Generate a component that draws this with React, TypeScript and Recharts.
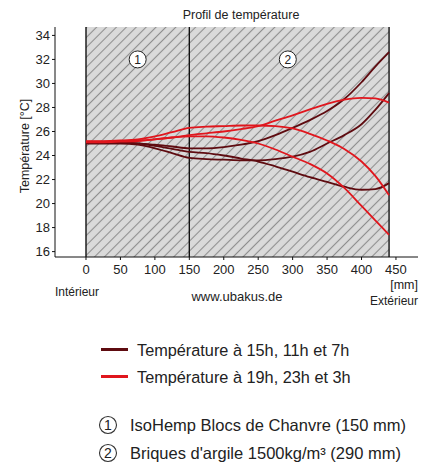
import {
  LineChart,
  Line,
  XAxis,
  YAxis,
  ReferenceArea,
  ReferenceLine,
  ReferenceDot,
} from "recharts";

// position dans la paroi [mm], intérieur -> extérieur
const positions = [0, 25, 50, 75, 100, 125, 150, 175, 200, 225, 250, 275, 300, 325, 350, 375, 400, 420, 440];

// 15h, 11h, 7h (rouge foncé)
const sombreA = [25.1, 25.1, 25.1, 25.0, 24.9, 24.75, 24.6, 24.6, 24.7, 24.9, 25.2, 25.7, 26.3, 26.95, 27.7, 28.7, 30.1, 31.4, 32.6];
const sombreB = [25.0, 25.0, 25.0, 24.9, 24.6, 24.2, 23.8, 23.7, 23.65, 23.6, 23.6, 23.7, 23.9, 24.3, 25.0, 25.7, 26.6, 27.8, 29.2];
const sombreC = [25.05, 25.05, 25.05, 25.0, 24.8, 24.55, 24.3, 24.2, 24.0, 23.75, 23.5, 23.1, 22.65, 22.2, 21.8, 21.4, 21.15, 21.2, 21.7];

// 19h, 23h, 3h (rouge)
const rougeA = [25.15, 25.15, 25.2, 25.25, 25.35, 25.5, 25.7, 25.85, 26.0, 26.2, 26.45, 26.9, 27.35, 27.85, 28.3, 28.65, 28.8, 28.75, 28.4];
const rougeB = [25.2, 25.2, 25.25, 25.35, 25.6, 25.95, 26.3, 26.4, 26.45, 26.5, 26.5, 26.45, 26.25, 25.8, 25.25, 24.55, 23.5, 22.3, 20.7];
const rougeC = [25.1, 25.1, 25.15, 25.2, 25.35, 25.5, 25.6, 25.6, 25.5, 25.3, 25.0, 24.5, 23.9, 23.3, 22.5, 21.3, 19.8, 18.6, 17.4];

const xTicks = [0, 50, 100, 150, 200, 250, 300, 350, 400, 450];
const yTicks = [16, 18, 20, 22, 24, 26, 28, 30, 32, 34];

const SOMBRE = "#5e0b10";
const ROUGE = "#e0161d";

const data = positions.map((pos, i) => ({
  pos,
  sombreA: sombreA[i],
  sombreB: sombreB[i],
  sombreC: sombreC[i],
  rougeA: rougeA[i],
  rougeB: rougeB[i],
  rougeC: rougeC[i],
}));

const font = "'Liberation Sans', Arial, sans-serif";

const txt = (extra: React.CSSProperties): React.CSSProperties => ({
  position: "absolute",
  fontFamily: font,
  color: "#222",
  whiteSpace: "nowrap",
  lineHeight: 1,
  ...extra,
});

export default function App() {
  return (
    <div style={{ position: "absolute", left: 0, top: 0, width: 427, height: 463, background: "#fff" }}>
      <LineChart
        width={427}
        height={463}
        data={data}
        margin={{ top: 27, right: 9, left: 15, bottom: 186 }}
      >
        <defs>
          <pattern id="hatch" width="7" height="7" patternUnits="userSpaceOnUse" patternTransform="rotate(45)">
            <rect width="7" height="7" fill="#dadada" />
            <line x1="3.5" y1="0" x2="3.5" y2="7" stroke="#8e8e8e" strokeWidth="1.1" />
          </pattern>
        </defs>
        <XAxis
          xAxisId="x"
          dataKey="pos"
          type="number"
          domain={[-45, 482]}
          ticks={xTicks}
          allowDataOverflow
          height={20}
          stroke="#111"
          tickSize={3}
          tickMargin={5}
          tick={{ fontSize: 13, fill: "#222", fontFamily: font }}
        />
        <XAxis
          xAxisId="xTop"
          orientation="top"
          dataKey="pos"
          type="number"
          domain={[-45, 482]}
          ticks={xTicks}
          allowDataOverflow
          mirror
          height={0}
          stroke="#111"
          tickSize={3}
          tickFormatter={() => ""}
        />
        <YAxis
          yAxisId="y"
          type="number"
          domain={[15.55, 34.7]}
          ticks={yTicks}
          allowDataOverflow
          width={40}
          stroke="#111"
          tickSize={3}
          tickMargin={2}
          tick={{ fontSize: 13, fill: "#222", fontFamily: font }}
        />
        <YAxis
          yAxisId="yRight"
          orientation="right"
          type="number"
          domain={[15.55, 34.7]}
          ticks={yTicks}
          allowDataOverflow
          mirror
          width={0}
          stroke="#111"
          tickSize={3}
          tickFormatter={() => ""}
        />
        <ReferenceArea xAxisId="x" yAxisId="y" x1={0} x2={440} y1={15.55} y2={34.7} fill="url(#hatch)" fillOpacity={1} stroke="none" />
        <ReferenceLine xAxisId="x" yAxisId="y" x={0} stroke="#111" strokeWidth={1.4} />
        <ReferenceLine xAxisId="x" yAxisId="y" x={150} stroke="#111" strokeWidth={1.4} />
        <ReferenceLine xAxisId="x" yAxisId="y" x={440} stroke="#111" strokeWidth={1.4} />
        <ReferenceDot
          xAxisId="x"
          yAxisId="y"
          x={75}
          y={32}
          r={8.5}
          fill="#fff"
          stroke="#222"
          label={{ value: "1", position: "center", fontSize: 12, fill: "#222", fontFamily: font }}
        />
        <ReferenceDot
          xAxisId="x"
          yAxisId="y"
          x={293}
          y={32}
          r={8.5}
          fill="#fff"
          stroke="#222"
          label={{ value: "2", position: "center", fontSize: 12, fill: "#222", fontFamily: font }}
        />
        {["sombreA", "sombreB", "sombreC"].map((k) => (
          <Line key={k} xAxisId="x" yAxisId="y" type="monotone" dataKey={k} stroke={SOMBRE} strokeWidth={1.8} dot={false} isAnimationActive={false} />
        ))}
        {["rougeA", "rougeB", "rougeC"].map((k) => (
          <Line key={k} xAxisId="x" yAxisId="y" type="monotone" dataKey={k} stroke={ROUGE} strokeWidth={1.8} dot={false} isAnimationActive={false} />
        ))}
      </LineChart>

      <div style={txt({ left: 241, top: 15, fontSize: 12.5, transform: "translate(-50%,-50%)" })}>Profil de température</div>
      <div style={txt({ left: 25, top: 146, fontSize: 12.5, transform: "translate(-50%,-50%) rotate(-90deg)" })}>
        Température [°C]
      </div>
      <div style={txt({ left: 55, top: 292, fontSize: 12, transform: "translateY(-50%)" })}>Intérieur</div>
      <div style={txt({ left: 237, top: 296, fontSize: 13, transform: "translate(-50%,-50%)" })}>www.ubakus.de</div>
      <div style={txt({ right: 9, top: 285, fontSize: 12.5, transform: "translateY(-50%)" })}>[mm]</div>
      <div style={txt({ right: 9, top: 301, fontSize: 12, transform: "translateY(-50%)" })}>Extérieur</div>

      <div style={{ position: "absolute", left: 101, top: 348, width: 27, height: 3, background: SOMBRE }} />
      <div style={txt({ left: 137, top: 350, fontSize: 16.3, transform: "translateY(-50%)" })}>Température à 15h, 11h et 7h</div>
      <div style={{ position: "absolute", left: 101, top: 375, width: 27, height: 3, background: ROUGE }} />
      <div style={txt({ left: 137, top: 377, fontSize: 16.3, transform: "translateY(-50%)" })}>Température à 19h, 23h et 3h</div>

      <svg style={{ position: "absolute", left: 0, top: 0 }} width={427} height={463}>
        <circle cx={108} cy={425} r={8.5} fill="#fff" stroke="#333" strokeWidth={1.1} />
        <text x={108} y={430} textAnchor="middle" fontSize={14} fontFamily={font} fill="#222">1</text>
        <circle cx={108} cy={453} r={8.5} fill="#fff" stroke="#333" strokeWidth={1.1} />
        <text x={108} y={458} textAnchor="middle" fontSize={14} fontFamily={font} fill="#222">2</text>
      </svg>
      <div style={txt({ left: 130, top: 425, fontSize: 16.5, transform: "translateY(-50%)" })}>IsoHemp Blocs de Chanvre (150 mm)</div>
      <div style={txt({ left: 130, top: 453, fontSize: 16.5, transform: "translateY(-50%)" })}>Briques d'argile 1500kg/m³ (290 mm)</div>
    </div>
  );
}
